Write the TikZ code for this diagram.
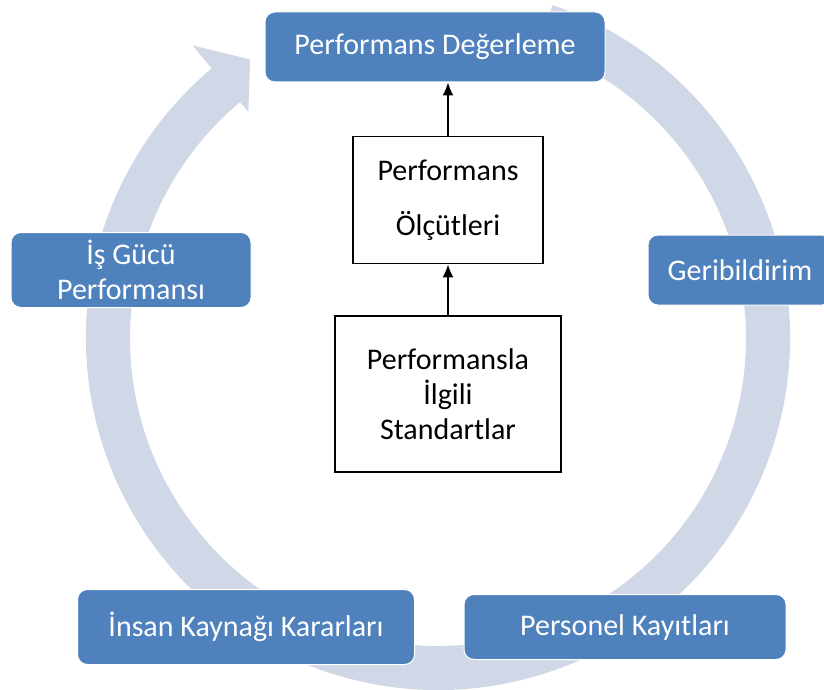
\documentclass[tikz,border=0pt]{standalone}
\usepackage{fontspec}
\setmainfont{Carlito}
\usetikzlibrary{positioning,arrows.meta}
\definecolor{ringblue}{RGB}{208,216,232}
\definecolor{boxblue}{RGB}{79,129,189}
\tikzset{
  >={Latex[length=13pt,width=11pt]},
  cyclebox/.style={rectangle, rounded corners=10pt, fill=boxblue, draw=white,
    line width=1pt, text=white, align=center, inner sep=0pt,
    font=\fontsize{30}{35}\selectfont},
  stdbox/.style={rectangle, draw=black, line width=1.8pt, align=center,
    inner sep=0pt, font=\fontsize{30}{35}\selectfont},
}

\begin{document}
\begin{tikzpicture}[x=1pt,y=1pt]
\useasboundingbox (0,0) rectangle (824,-690);
\clip (0,0) rectangle (824,-690);

% ring with its arrow head
\begin{scope}[shift={(438,-338)}]
\fill[ringblue] (71:352) arc[start angle=71,end angle=-230,radius=352]
  -- (130:382) -- (124:336) -- (130:295) -- (130:308)
  arc[start angle=130,end angle=431,radius=308] -- cycle;
\end{scope}

\node[cyclebox, minimum width=340pt, minimum height=70pt] (deg) at (435,-47) {Performans Değerleme};
\node[cyclebox, minimum width=184pt, minimum height=70pt] (geri) at (740,-270) {Geribildirim};
\node[cyclebox, minimum width=322pt, minimum height=65pt] (kayit) at (625,-627) {Personel Kayıtları};
\node[cyclebox, minimum width=337pt, minimum height=75pt] (karar) at (246,-627) {İnsan Kaynağı Kararları};
\node[cyclebox, minimum width=240pt, minimum height=75pt] (isgucu) at (131,-270) {İş Gücü\\Performansı};

\node[stdbox, minimum width=190pt, minimum height=127pt] (olcut) at (448,-200) {Performans\\[20pt]Ölçütleri};
\node[stdbox, minimum width=226pt, minimum height=156pt, below=51pt of olcut] (standart) {Performansla\\İlgili\\Standartlar};

\draw[->, line width=1.5pt] (standart) -- (olcut);
\draw[->, line width=1.5pt] (olcut) -- (olcut.north |- deg.south);
\end{tikzpicture}
\end{document}
